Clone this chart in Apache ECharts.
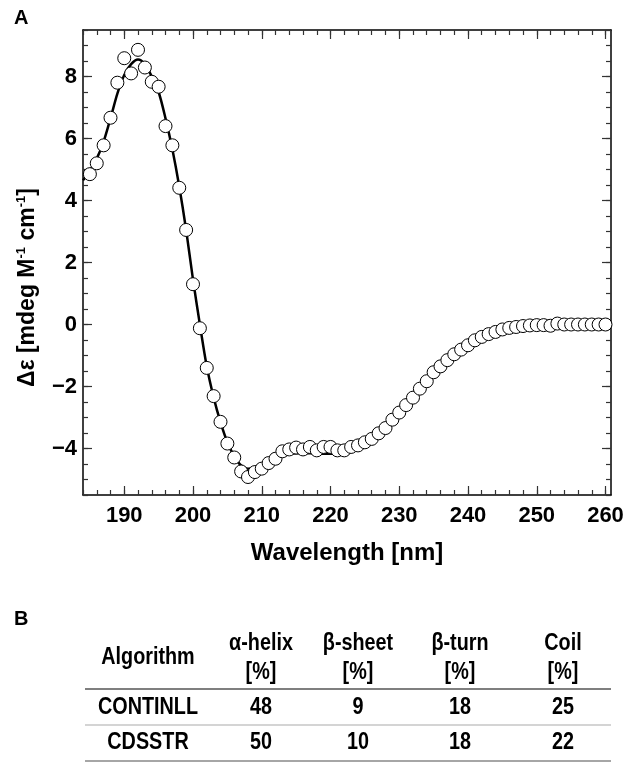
<!DOCTYPE html>
<html><head><meta charset="utf-8">
<script src="https://cdn.jsdelivr.net/npm/echarts@6/dist/echarts.min.js"></script>
<style>html,body{margin:0;padding:0;background:#fff}#c{width:631px;height:764px}</style>
</head><body><div id="c"></div>
<script>
// ---- data ----
const wavelengths = [185,186,187,188,189,190,191,192,193,194,195,196,197,198,199,200,201,202,203,204,205,206,207,208,209,210,211,212,213,214,215,216,217,218,219,220,221,222,223,224,225,226,227,228,229,230,231,232,233,234,235,236,237,238,239,240,241,242,243,244,245,246,247,248,249,250,251,252,253,254,255,256,257,258,259,260];
const deltaEps = [4.85,5.2,5.78,6.67,7.8,8.59,8.1,8.86,8.29,7.83,7.67,6.4,5.78,4.41,3.05,1.3,-0.12,-1.4,-2.31,-3.14,-3.84,-4.29,-4.74,-4.92,-4.76,-4.65,-4.47,-4.33,-4.09,-4.03,-3.97,-4.03,-3.95,-4.06,-3.95,-3.95,-4.06,-4.06,-3.95,-3.9,-3.8,-3.69,-3.51,-3.34,-3.07,-2.84,-2.6,-2.36,-2.07,-1.83,-1.54,-1.35,-1.15,-0.96,-0.81,-0.67,-0.51,-0.4,-0.31,-0.24,-0.16,-0.11,-0.08,-0.05,-0.03,-0.02,-0.02,-0.04,0.03,0.0,0.0,0.0,0.0,0.0,0.0,0.0];
const fitWavelengths = [184,185,186,187,188,189,190,191,192,193,194,195,196,197,198,199,200,201,202,203,204,205,206,207,208,209,210,211,212,213,214,215,216,217,218,219,220,221];
const fitValues = [4.65,4.95,5.35,5.9,6.65,7.45,8.05,8.4,8.55,8.4,8.0,7.5,6.65,5.65,4.45,3.05,1.45,0.0,-1.35,-2.35,-3.15,-3.8,-4.25,-4.55,-4.65,-4.6,-4.52,-4.42,-4.32,-4.22,-4.17,-4.15,-4.15,-4.15,-4.16,-4.17,-4.17,-4.16];
const xTickLabels = [190,200,210,220,230,240,250,260];
const yTickLabels = [-4,-2,0,2,4,6,8];
const tableHeaderTop = ['Algorithm','α-helix','β-sheet','β-turn','Coil'];
const tableHeaderBottom = ['','[%]','[%]','[%]','[%]'];
const tableAlgorithms = ['CONTINLL','CDSSTR'];
const alphaHelix = [48,50];
const betaSheet = [9,10];
const betaTurn = [18,18];
const coil = [25,22];

// ---- ticks ----
const X_MIN = 184, X_MAX = 260.8, Y_MIN = -5.5, Y_MAX = 9.5;
const xMinor = []; for (let v = 184; v <= 260; v += 2) xMinor.push(v);
const yMinor = []; for (let v = -5.5; v <= 9.5 + 1e-9; v += 0.5) yMinor.push(+v.toFixed(1));

const FONT = '"Liberation Sans", Arial, Helvetica, sans-serif';
const lineStyle = {color:'#000', width:1.5};

function xAx(pos, ticks, len, showLine, labels) {
  return {
    type:'value', position:pos, min:X_MIN, max:X_MAX, gridIndex:0,
    axisLine:{show:showLine, onZero:false, lineStyle},
    axisTick:{show:true, inside:true, length:len, customValues:ticks, lineStyle:{color:'#333', width:1.2}},
    axisLabel: labels ? {show:true, customValues:labels, color:'#000', fontSize:22, fontWeight:'bold', fontFamily:FONT, margin:10} : {show:false},
    splitLine:{show:false}
  };
}
function yAx(pos, ticks, len, showLine, labels) {
  return {
    type:'value', position:pos, min:Y_MIN, max:Y_MAX, gridIndex:0,
    axisLine:{show:showLine, onZero:false, lineStyle},
    axisTick:{show:true, inside:true, length:len, customValues:ticks, lineStyle:{color:'#333', width:1.2}},
    axisLabel: labels ? {show:true, customValues:labels, color:'#000', fontSize:22, fontWeight:'bold', fontFamily:FONT, margin:6,
      formatter: v => (v < 0 ? '\u2212' + Math.abs(v) : String(v))} : {show:false},
    splitLine:{show:false}
  };
}

const xAxes = [
  xAx('bottom', xMinor, 5, true, xTickLabels),
  xAx('bottom', xTickLabels, 9, false, null),
  xAx('top', xMinor, 5, true, null),
  xAx('top', xTickLabels, 9, false, null)
];
Object.assign(xAxes[0], {name:'Wavelength [nm]', nameLocation:'middle', nameGap:46,
  nameTextStyle:{color:'#000', fontSize:24, fontWeight:'bold', fontFamily:FONT}});
const yAxes = [
  yAx('left', yMinor, 5, true, yTickLabels),
  yAx('left', yTickLabels, 9, false, null),
  yAx('right', yMinor, 5, true, null),
  yAx('right', yTickLabels, 9, false, null)
];
Object.assign(yAxes[0], {
  name:'{n|\u0394\u03b5 [mdeg M}{s|-1}{n| cm}{s|-1}{n|]}', nameLocation:'middle', nameGap:42,
  nameTextStyle:{color:'#000', fontFamily:FONT, padding:[0, 50, 0, 0], rich:{
    n:{fontSize:23, fontWeight:'bold', fontFamily:FONT, color:'#000', lineHeight:26},
    s:{fontSize:13, fontWeight:'bold', fontFamily:FONT, color:'#000', lineHeight:13, verticalAlign:'top'}
  }}
});

// ---- table graphic ----
const colX = [148, 261, 358, 460, 563];
const tableLeft = 85, tableRight = 611;
const tText = (txt, x, y) => ({type:'text', x, y, scaleX:0.86, scaleY:1,
  style:{text:txt, x:0, y:0, align:'center', verticalAlign:'middle', font:'bold 23px ' + FONT, fill:'#000'}});
const graphics = [];
graphics.push({type:'text', style:{text:'A', x:14, y:8, font:'bold 20px ' + FONT, fill:'#000'}});
graphics.push({type:'text', style:{text:'B', x:14, y:609, font:'bold 20px ' + FONT, fill:'#000'}});
tableHeaderTop.forEach((h, i) => {
  graphics.push(tText(h, colX[i], i === 0 ? 658 : 644));
});
tableHeaderBottom.forEach((h, i) => { if (h) graphics.push(tText(h, colX[i], 673)); });
const rowY = [708, 743];
tableAlgorithms.forEach((a, r) => {
  const vals = [a, alphaHelix[r], betaSheet[r], betaTurn[r], coil[r]];
  vals.forEach((v, i) => graphics.push(tText(String(v), colX[i], rowY[r])));
});
[[689, '#555', 1.5], [725, '#aaa', 1.2], [761, '#888', 1.5]].forEach(([y, c, w]) => {
  graphics.push({type:'line', shape:{x1:tableLeft, y1:y, x2:tableRight, y2:y}, style:{stroke:c, lineWidth:w}});
});

const chart = echarts.init(document.getElementById('c'), null, {renderer:'canvas'});
chart.setOption({
  backgroundColor:'#fff',
  animation:false,
  grid:{left:83, right:20, top:30, bottom:269, containLabel:false, outerBoundsMode:'none'},
  xAxis:xAxes,
  yAxis:yAxes,
  series:[
    {type:'line', xAxisIndex:0, yAxisIndex:0, data:fitWavelengths.map((x, i) => [x, fitValues[i]]),
      showSymbol:false, smooth:0.3, lineStyle:{color:'#000', width:2.5}, z:2},
    {type:'scatter', xAxisIndex:0, yAxisIndex:0, data:wavelengths.map((x, i) => [x, deltaEps[i]]),
      symbol:'circle', symbolSize:13, itemStyle:{color:'#fff', borderColor:'#000', borderWidth:1, opacity:1}, z:3}
  ],
  graphic:graphics
});
</script></body></html>
